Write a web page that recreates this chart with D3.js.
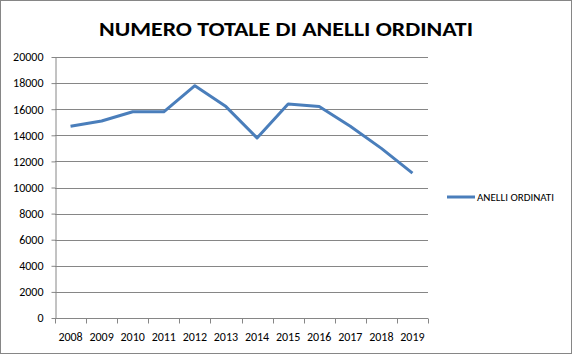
<!DOCTYPE html>
<html lang="it">
<head>
    <meta charset="UTF-8">
    <title>Numero totale di anelli ordinati</title>
    <script src="https://d3js.org/d3.v7.min.js"></script>
    <style>
        body { margin: 0; background: #fff; }
        text { font-family: Carlito, Lato, "Open Sans", sans-serif; }
    </style>
</head>
<body>
    <div id="chart"></div>
    <script>
        // dati
        var years = ["2008", "2009", "2010", "2011", "2012", "2013", "2014", "2015", "2016", "2017", "2018", "2019"];
        var anelli = [14700, 15100, 15800, 15800, 17800, 16200, 13800, 16400, 16200, 14700, 13000, 11100];
        var yTicks = [0, 2000, 4000, 6000, 8000, 10000, 12000, 14000, 16000, 18000, 20000];
        var seriesName = "ANELLI ORDINATI";
        var title = "NUMERO TOTALE DI ANELLI ORDINATI";

        var width = 572,
            height = 354;
        var plotLeft = 55, plotRight = 428, plotTop = 57, plotBottom = 318;

        var svg = d3.select("#chart").append("svg")
            .attr("width", width)
            .attr("height", height);

        // bordo esterno
        svg.append("rect")
            .attr("x", 0.5).attr("y", 0.5)
            .attr("width", width - 1).attr("height", height - 1)
            .attr("fill", "#fff")
            .attr("stroke", "#868686");

        var x = d3.scaleBand().domain(years).range([plotLeft, plotRight]);
        var y = d3.scaleLinear().domain([0, 20000]).range([plotBottom, plotTop]);

        // griglia
        svg.append("g")
            .selectAll("line")
            .data(yTicks.slice(1))
            .join("line")
            .attr("x1", plotLeft).attr("x2", plotRight)
            .attr("y1", function(d) { return Math.round(y(d)) + 0.5; })
            .attr("y2", function(d) { return Math.round(y(d)) + 0.5; })
            .attr("stroke", "#868686");

        // asse y
        var yAxis = svg.append("g")
            .attr("transform", "translate(" + (plotLeft + 0.5) + ",0)")
            .call(d3.axisLeft(y).tickValues(yTicks).tickFormat(d3.format("d"))
                .tickSize(4).tickSizeOuter(0).tickPadding(8));
        yAxis.select(".domain").attr("stroke", "#868686");
        yAxis.selectAll(".tick line").attr("stroke", "#868686");
        yAxis.selectAll(".tick text")
            .attr("font-size", 12)
            .attr("fill", "#000")
            .style("font-family", 'Carlito, Lato, "Open Sans", sans-serif');

        // asse x
        var xAxis = svg.append("g")
            .attr("transform", "translate(0," + (plotBottom + 0.5) + ")");
        xAxis.append("line")
            .attr("x1", plotLeft).attr("x2", plotRight)
            .attr("stroke", "#868686");
        xAxis.selectAll("line.tk")
            .data(years.concat(["end"]))
            .join("line")
            .attr("class", "tk")
            .attr("x1", function(d, i) { return Math.round(plotLeft + i * x.bandwidth()) + 0.5; })
            .attr("x2", function(d, i) { return Math.round(plotLeft + i * x.bandwidth()) + 0.5; })
            .attr("y1", 0).attr("y2", 5)
            .attr("stroke", "#868686");
        xAxis.selectAll("text")
            .data(years)
            .join("text")
            .attr("x", function(d) { return x(d) + x.bandwidth() / 2; })
            .attr("y", 22)
            .attr("text-anchor", "middle")
            .attr("font-size", 12)
            .text(function(d) { return d; });

        // linea
        var line = d3.line()
            .x(function(d, i) { return x(years[i]) + x.bandwidth() / 2; })
            .y(function(d) { return y(d); });

        svg.append("path")
            .datum(anelli)
            .attr("d", line)
            .attr("fill", "none")
            .attr("stroke", "#4a7ebb")
            .attr("stroke-width", 3)
            .attr("stroke-linejoin", "round");

        // titolo
        svg.append("text")
            .attr("x", 286)
            .attr("y", 36)
            .attr("text-anchor", "middle")
            .attr("font-size", 21)
            .attr("font-weight", "bold")
            .attr("textLength", 374)
            .attr("lengthAdjust", "spacingAndGlyphs")
            .text(title);

        // legenda
        svg.append("line")
            .attr("x1", 447).attr("x2", 475)
            .attr("y1", 197).attr("y2", 197)
            .attr("stroke", "#4a7ebb")
            .attr("stroke-width", 3);
        svg.append("text")
            .attr("x", 477)
            .attr("y", 201)
            .attr("font-size", 10)
            .attr("textLength", 77)
            .attr("lengthAdjust", "spacingAndGlyphs")
            .text(seriesName);
    </script>
</body>
</html>
